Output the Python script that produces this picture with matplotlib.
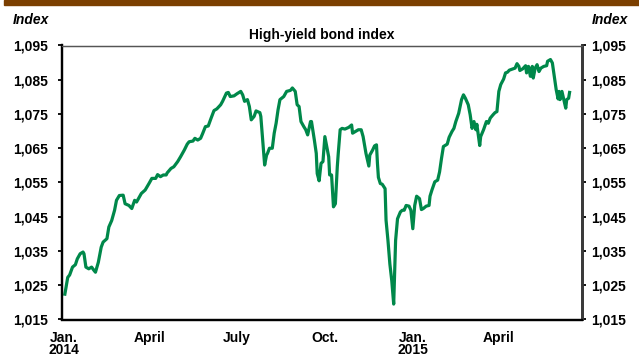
import numpy as np
import pandas as pd
import matplotlib
matplotlib.use("Agg")
import matplotlib.pyplot as plt
from matplotlib.patches import Rectangle

plt.rcParams['font.family'] = ['Liberation Sans', 'DejaVu Sans']

# days since 2014-01-01 and index level
days = [1, 4, 6, 9, 12, 14, 17, 20, 21, 23, 26, 29, 31, 33, 36, 39, 41, 45, 47, 50,
        53, 55, 58, 62, 64, 68, 71, 74, 76, 78, 81, 85, 89, 92, 96, 98, 101, 104, 107,
        108, 112, 115, 119, 122, 126, 129, 131, 135, 137, 140, 143, 145, 148, 151, 154,
        157, 160, 164, 166, 170, 172, 174, 178, 181, 185, 187, 189, 192, 194, 196, 199,
        201, 205, 206, 208, 210, 212,
        213, 215, 218, 220, 222, 224, 226, 230, 233, 237, 239, 242, 244, 246, 248, 251,
        253, 255, 258, 259, 262, 264, 265, 267, 269, 271, 273, 275, 277, 278, 280, 282,
        284, 286, 287, 289, 291, 294, 298, 301, 302, 305, 308, 311, 313, 316, 319, 320,
        323, 325,
        327, 328, 329, 331, 333, 336, 337, 339, 341, 343, 345, 346, 347, 349, 352, 354,
        356, 358, 361, 363, 365, 367, 369, 372, 374, 376, 379, 382, 383, 385, 388, 391,
        393, 395, 397, 401, 403, 406, 408, 410, 413, 416, 418, 420, 423, 425, 427, 429,
        431, 432, 435,
        436, 439, 442, 444, 446, 449, 451, 453, 455, 457, 460, 462, 464, 466, 470, 472,
        474, 476, 477, 480, 483, 484, 486, 488, 490, 491, 493, 495, 497, 499, 502, 505,
        506, 509, 511, 513, 515, 517, 518, 519, 521, 523, 525, 526, 528, 529]

index_level = [1022.4, 1027.3, 1028.0, 1030.3, 1031.0, 1032.7, 1034.2, 1034.7, 1034.2, 1030.3,
               1029.8, 1030.3, 1029.5, 1028.8, 1031.7, 1036.1, 1037.6, 1038.6, 1042.0, 1043.9,
               1046.9, 1049.8, 1051.2, 1051.3, 1048.8, 1048.3, 1047.4, 1049.8, 1049.3, 1050.3,
               1051.8, 1052.8, 1054.7, 1056.2, 1056.2, 1057.3, 1056.7, 1057.2, 1057.2,
               1057.8, 1059.1, 1059.6, 1061.1, 1062.5, 1064.5, 1066.2, 1066.9, 1067.1, 1067.9,
               1067.4, 1067.9, 1069.2, 1071.3, 1071.5, 1073.8, 1076.0, 1076.5, 1077.7, 1078.7,
               1081.1, 1081.3, 1080.1, 1080.3, 1080.9, 1081.6, 1080.6, 1078.7, 1079.2, 1077.2,
               1073.3, 1074.3, 1075.9, 1075.4, 1074.3, 1067.4, 1060.1, 1063.0,
               1063.5, 1065.0, 1065.0, 1069.4, 1072.3, 1076.2, 1079.2, 1080.1, 1081.6, 1081.9,
               1082.6, 1081.6, 1077.7, 1077.2, 1072.8, 1071.3, 1070.4, 1068.9, 1072.8, 1072.8,
               1067.4, 1063.5, 1057.6, 1055.5, 1060.6, 1061.1, 1068.4, 1065.5, 1062.5, 1057.2,
               1057.2, 1047.9, 1048.8, 1059.6, 1063.5, 1070.4, 1070.8, 1070.6, 1071.1, 1071.8,
               1069.4, 1069.9, 1070.4, 1070.4, 1068.4, 1063.5, 1059.8, 1063.0, 1064.5, 1065.7,
               1066.0, 1060.6, 1056.5, 1054.7, 1054.5, 1053.2, 1044.0, 1038.1, 1031.2, 1026.3,
               1019.5, 1028.3, 1038.1, 1044.4, 1046.4, 1046.9, 1046.9, 1048.3, 1048.1, 1046.9,
               1041.5, 1048.3, 1051.0, 1050.3, 1047.1, 1047.4, 1048.1, 1048.3, 1051.0, 1052.8,
               1055.2, 1055.7, 1058.1, 1062.0, 1065.5, 1066.2, 1068.2, 1069.9, 1070.8, 1072.8,
               1075.2, 1079.2, 1080.6, 1079.6, 1077.7, 1074.8, 1070.8, 1072.8, 1070.4, 1072.0,
               1065.8,
               1068.4, 1070.4, 1072.8, 1072.3, 1073.8, 1074.8, 1075.4, 1075.7, 1081.6, 1083.6,
               1085.2, 1087.0, 1087.2, 1087.8, 1088.2, 1088.4, 1089.7, 1088.9, 1087.7, 1088.2,
               1089.1, 1087.0, 1088.9, 1086.0, 1088.9, 1085.5, 1088.4, 1089.4, 1087.4, 1088.4,
               1088.9, 1089.1, 1090.4, 1090.9, 1089.9, 1086.0, 1082.1, 1079.4, 1081.6, 1079.2,
               1081.6, 1079.2, 1076.7, 1079.2, 1079.6, 1081.3]

tick_dates = ['2014-01-01', '2014-04-01', '2014-07-01', '2014-10-01', '2015-01-01', '2015-04-01']
tick_labels = ['Jan.\n2014', 'April', 'July', 'Oct.', 'Jan.\n2015', 'April']
y_ticks = [1015, 1025, 1035, 1045, 1055, 1065, 1075, 1085, 1095]
y_labels = [f'{v:,}' for v in y_ticks]

dates = pd.Timestamp('2014-01-01') + pd.to_timedelta(days, unit='D')

fig = plt.figure(figsize=(6.39, 3.56), dpi=100)
ax = fig.add_axes([62 / 639, 1 - 319.5 / 356, 520 / 639, 274 / 356])

# brown band along the top edge
fig.patches.append(Rectangle((4 / 639, 1 - 4.5 / 356), 1, 4.5 / 356,
                             transform=fig.transFigure, color='#7b3f00', zorder=0))

ax.plot(dates, index_level, color='#00884a', linewidth=2.3, solid_joinstyle='round')

ax.set_xlim(pd.Timestamp('2013-12-30'), pd.Timestamp('2015-06-27'))
ax.set_ylim(1015, 1095)

ax.set_xticks(pd.to_datetime(tick_dates))
ax.set_xticklabels(tick_labels, fontsize=10, fontweight='bold', linespacing=0.85, va='top')
ax.tick_params(axis='x', length=0, pad=8)

ax.set_yticks(y_ticks)
ax.set_yticklabels(y_labels, fontsize=10, fontweight='bold')
ax.tick_params(axis='y', direction='out', length=3, width=1.3, pad=7)

# right-hand scale is the same, closer to the spine
ax2 = ax.twinx()
ax2.set_ylim(ax.get_ylim())
ax2.set_yticks(y_ticks)
ax2.set_yticklabels(y_labels, fontsize=10, fontweight='bold')
ax2.tick_params(axis='y', direction='out', length=3, width=1.3, pad=3.5)

for a in (ax, ax2):
    a.spines['left'].set_color('black')
    a.spines['left'].set_linewidth(1.6)
    a.spines['bottom'].set_color('black')
    a.spines['bottom'].set_linewidth(1.6)
    a.spines['right'].set_color('#3a3a3a')
    a.spines['right'].set_linewidth(2)
    a.spines['top'].set_color('#555555')
    a.spines['top'].set_linewidth(0.9)

ax.set_title('High-yield bond index', fontsize=10, fontweight='bold', pad=4.5)

fig.text(13 / 639, 1 - 24 / 356, 'Index', fontsize=10, fontweight='bold',
         fontstyle='italic', ha='left', va='baseline')
fig.text(592 / 639, 1 - 24 / 356, 'Index', fontsize=10, fontweight='bold',
         fontstyle='italic', ha='left', va='baseline')

fig.savefig('out.png', dpi=100)
